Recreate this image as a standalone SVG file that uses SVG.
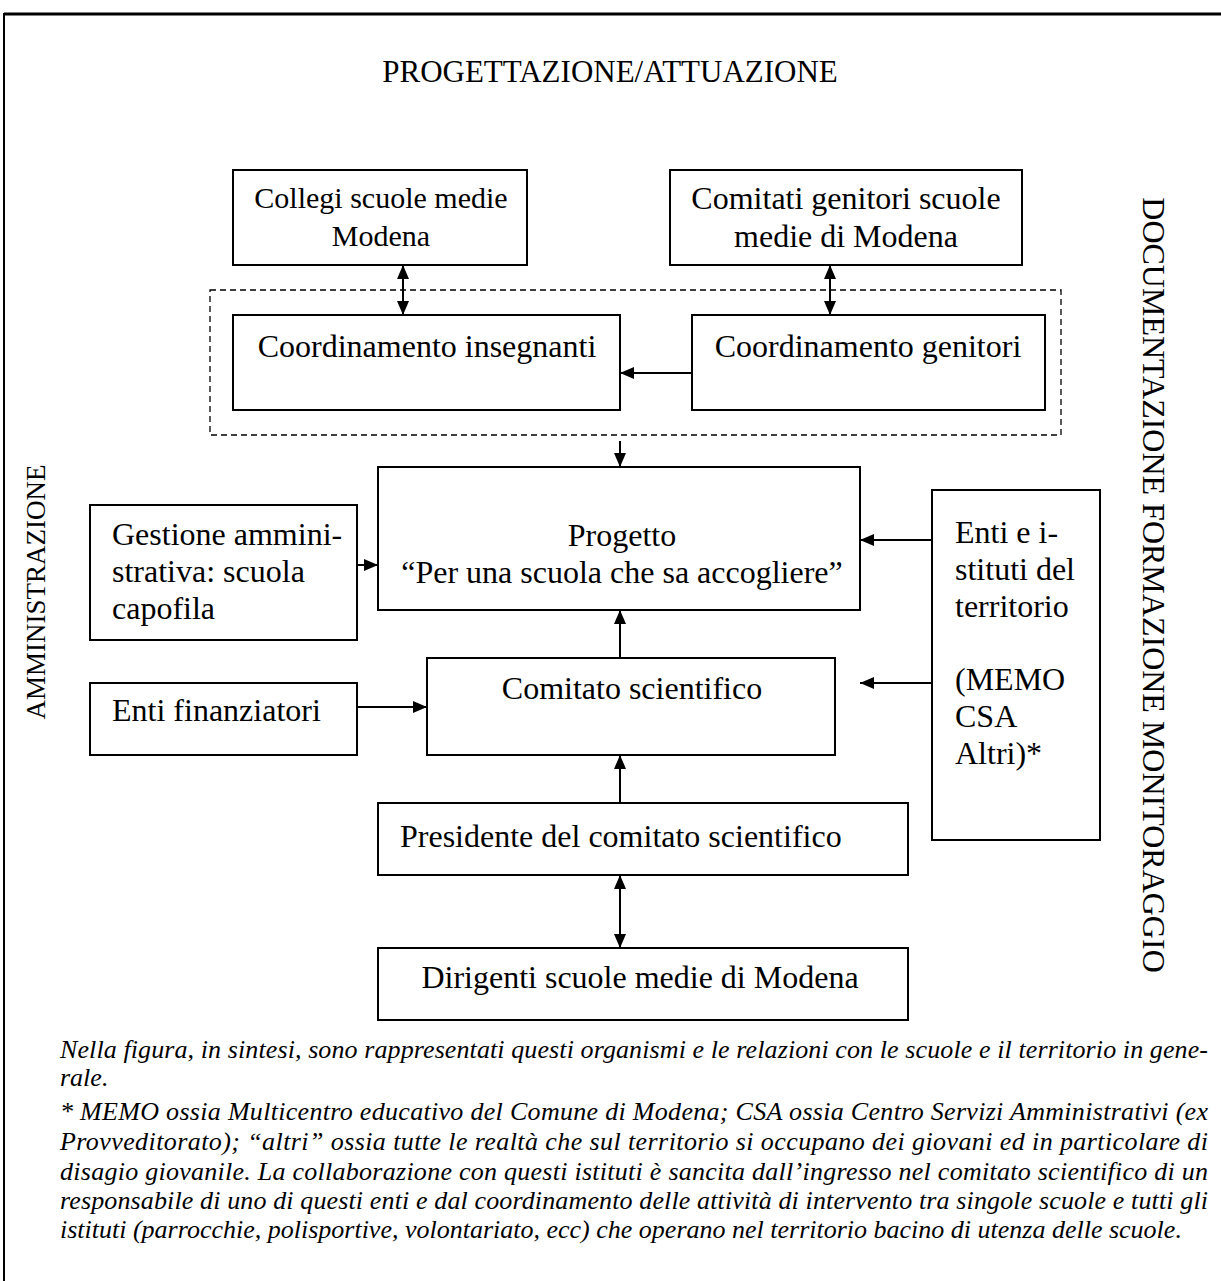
<svg xmlns="http://www.w3.org/2000/svg" width="1221" height="1281" viewBox="0 0 1221 1281">
<defs>
<style>
.box{fill:#fff;stroke:#000;stroke-width:2}
.dash{fill:none;stroke:#000;stroke-width:1.3;stroke-dasharray:6 4}
.t{font-family:"Liberation Serif","Times New Roman",serif;font-size:32px;fill:#000}
.c{text-anchor:middle}
.conn line{stroke:#000;stroke-width:2}
.note{font-family:"Liberation Serif","Times New Roman",serif;font-size:26px;font-style:italic;fill:#000}
</style>
<marker id="ah" viewBox="0 0 14 12" refX="14" refY="6" markerWidth="14" markerHeight="12" markerUnits="userSpaceOnUse" orient="auto-start-reverse">
<path d="M0,0 L14,6 L0,12 z" fill="#000"/>
</marker>
</defs>
<rect width="1221" height="1281" fill="#fff"/>
<g id="frame">
<line x1="4" y1="14" x2="1221" y2="14" stroke="#000" stroke-width="3"/>
<line x1="4" y1="13" x2="4" y2="1281" stroke="#000" stroke-width="2"/>
</g>
<g id="title"><text class="t c" x="610" y="82" style="font-size:31px">PROGETTAZIONE/ATTUAZIONE</text></g>
<g id="side-left"><text class="t c" transform="translate(45,592) rotate(-90)" style="font-size:27px">AMMINISTRAZIONE</text></g>
<g id="side-right"><text class="t c" transform="translate(1143,585) rotate(90)">DOCUMENTAZIONE FORMAZIONE MONITORAGGIO</text></g>
<g id="group-coordinamento"><rect class="dash" x="210" y="290" width="851" height="145"/></g>
<g id="collegi"><rect class="box" x="233" y="170" width="294" height="95"/>
<text class="t c" x="381" y="208" style="font-size:30px">Collegi scuole medie</text><text class="t c" x="381" y="246" style="font-size:30px">Modena</text></g>
<g id="comitati"><rect class="box" x="670" y="170" width="352" height="95"/>
<text class="t c" x="846" y="209">Comitati genitori scuole</text><text class="t c" x="846" y="247">medie di Modena</text></g>
<g id="coord-insegnanti"><rect class="box" x="233" y="315" width="387" height="95"/>
<text class="t c" x="427" y="357">Coordinamento insegnanti</text></g>
<g id="coord-genitori"><rect class="box" x="692" y="315" width="353" height="95"/>
<text class="t c" x="868" y="357">Coordinamento genitori</text></g>
<g id="progetto"><rect class="box" x="378" y="467" width="482" height="143"/>
<text class="t c" x="622" y="546">Progetto</text><text class="t c" x="622" y="583">“Per una scuola che sa accogliere”</text></g>
<g id="gestione"><rect class="box" x="90" y="505" width="267" height="135"/>
<text class="t" x="112" y="545">Gestione ammini-</text><text class="t" x="112" y="582">strativa: scuola</text><text class="t" x="112" y="619">capofila</text></g>
<g id="enti-territorio"><rect class="box" x="932" y="490" width="168" height="350"/>
<text class="t" x="955" y="543">Enti e i-</text><text class="t" x="955" y="580">stituti del</text><text class="t" x="955" y="617">territorio</text>
<text class="t" x="955" y="690">(MEMO</text><text class="t" x="955" y="727">CSA</text><text class="t" x="955" y="764">Altri)*</text></g>
<g id="comitato-scientifico"><rect class="box" x="427" y="658" width="408" height="97"/>
<text class="t c" x="632" y="699">Comitato scientifico</text></g>
<g id="enti-finanziatori"><rect class="box" x="90" y="683" width="267" height="72"/>
<text class="t" x="112" y="721">Enti finanziatori</text></g>
<g id="presidente"><rect class="box" x="378" y="803" width="530" height="72"/>
<text class="t" x="400" y="847">Presidente del comitato scientifico</text></g>
<g id="dirigenti"><rect class="box" x="378" y="948" width="530" height="72"/>
<text class="t c" x="640" y="988">Dirigenti scuole medie di Modena</text></g>
<g id="connectors" class="conn">
<line x1="403" y1="265" x2="403" y2="315" marker-start="url(#ah)" marker-end="url(#ah)"/>
<line x1="830" y1="265" x2="830" y2="315" marker-start="url(#ah)" marker-end="url(#ah)"/>
<line x1="692" y1="373" x2="620" y2="373" marker-end="url(#ah)"/>
<line x1="620" y1="441" x2="620" y2="467" marker-end="url(#ah)"/>
<line x1="357" y1="565" x2="378" y2="565" marker-end="url(#ah)"/>
<line x1="932" y1="540" x2="860" y2="540" marker-end="url(#ah)"/>
<line x1="620" y1="658" x2="620" y2="610" marker-end="url(#ah)"/>
<line x1="357" y1="707" x2="427" y2="707" marker-end="url(#ah)"/>
<line x1="932" y1="683" x2="860" y2="683" marker-end="url(#ah)"/>
<line x1="620" y1="803" x2="620" y2="755" marker-end="url(#ah)"/>
<line x1="620" y1="875" x2="620" y2="948" marker-start="url(#ah)" marker-end="url(#ah)"/>
</g>
<g id="footnote" class="note">
<text x="60" y="1058" textLength="1148" lengthAdjust="spacing">Nella figura, in sintesi, sono rappresentati questi organismi e le relazioni con le scuole e il territorio in gene-</text>
<text x="60" y="1086">rale.</text>
<text x="60" y="1120" textLength="1148" lengthAdjust="spacing">* MEMO ossia Multicentro educativo del Comune di Modena; CSA ossia Centro Servizi Amministrativi (ex</text>
<text x="60" y="1150" textLength="1148" lengthAdjust="spacing">Provveditorato); “altri” ossia tutte le realtà che sul territorio si occupano dei giovani ed in particolare di</text>
<text x="60" y="1180" textLength="1148" lengthAdjust="spacing">disagio giovanile. La collaborazione con questi istituti è sancita dall’ingresso nel comitato scientifico di un</text>
<text x="60" y="1209" textLength="1148" lengthAdjust="spacing">responsabile di uno di questi enti e dal coordinamento delle attività di intervento tra singole scuole e tutti gli</text>
<text x="60" y="1238">istituti (parrocchie, polisportive, volontariato, ecc) che operano nel territorio bacino di utenza delle scuole.</text>
</g>
</svg>
